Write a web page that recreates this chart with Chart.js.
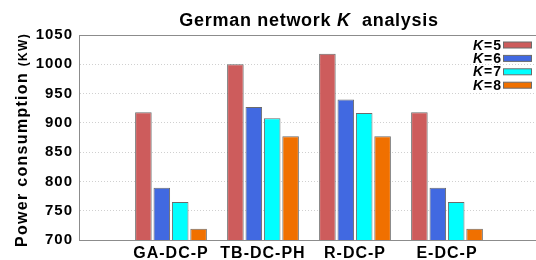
<!DOCTYPE html>
<html>
<head>
<meta charset="utf-8">
<script src="https://cdn.jsdelivr.net/npm/chart.js@4/dist/chart.umd.min.js"></script>
<style>
  html, body { margin: 0; padding: 0; background: #fff; overflow: hidden; }
  #wrap { width: 536px; height: 260px; overflow: hidden; position: relative; }
  #box { width: 543px; height: 260px; position: absolute; left: 0; top: 0; }
</style>
</head>
<body>
<div id="wrap"><div id="box"><canvas id="myChart"></canvas></div></div>
<script>
// data
const categories = ['GA-DC-P', 'TB-DC-PH', 'R-DC-P', 'E-DC-P'];
const kValues = [5, 6, 7, 8];
const k5 = [918, 1000, 1018, 918];
const k6 = [789, 927, 940, 789];
const k7 = [765, 908, 917, 765];
const k8 = [719, 877, 877, 719];
const yTicks = [700, 750, 800, 850, 900, 950, 1000, 1050];

const colors = ['#CD5C5C', '#4169E1', '#00FFFF', '#F07000'];
const fontFam = "'Liberation Sans', Arial, sans-serif";

// blank slot at each end so the groups sit where the original puts them
const labels = [''].concat(categories, ['']);
const pad = function (arr) { return [null].concat(arr, [null]); };

const series = [k5, k6, k7, k8];
const datasets = series.map(function (s, i) {
    return {
        label: 'K=' + kValues[i],
        data: pad(s),
        backgroundColor: colors[i],
        borderColor: '#6b6b6b',
        borderWidth: 1,
        borderSkipped: 'bottom',
        barPercentage: 0.9,
        categoryPercentage: 0.8
    };
});

// title, y title and legend need italic K, so they are drawn here
const textPlugin = {
    id: 'texts',
    beforeDraw: function (chart) {
        chart.ctx.letterSpacing = '1px';
    },
    afterDraw: function (chart) {
        const ctx = chart.ctx;
        const area = chart.chartArea;
        ctx.save();
        ctx.fillStyle = '#000';
        ctx.textBaseline = 'alphabetic';
        ctx.textAlign = 'left';

        // title
        ctx.letterSpacing = '0.7px';
        const parts = [
            { t: 'German network ', f: 'bold 18px ' + fontFam },
            { t: 'K', f: 'italic bold 18px ' + fontFam },
            { t: '  analysis', f: 'bold 18px ' + fontFam }
        ];
        let w = 0;
        parts.forEach(function (p) { ctx.font = p.f; p.w = ctx.measureText(p.t).width; w += p.w; });
        let x = (area.left + area.right) / 2 - w / 2;
        parts.forEach(function (p) { ctx.font = p.f; ctx.fillText(p.t, x, 26); x += p.w; });

        // y axis title
        ctx.save();
        ctx.translate(27, 247);
        ctx.rotate(-Math.PI / 2);
        ctx.letterSpacing = '1.3px';
        ctx.font = 'bold 16px ' + fontFam;
        const main = 'Power consumption ';
        ctx.fillText(main, 0, 0);
        const mw = ctx.measureText(main).width;
        ctx.font = 'bold 12px ' + fontFam;
        ctx.fillText('(KW)', mw, 0);
        ctx.restore();

        // legend
        ctx.letterSpacing = '1px';
        chart.data.datasets.forEach(function (ds, i) {
            const y = 49.5 + i * 13.4;
            const rest = ds.label.slice(1);
            ctx.font = 'bold 14px ' + fontFam;
            const rw = ctx.measureText(rest).width;
            ctx.fillText(rest, 502 - rw, y);
            ctx.font = 'italic bold 14px ' + fontFam;
            const kw = ctx.measureText('K').width;
            ctx.fillText('K', 502 - rw - kw, y);
            ctx.fillStyle = ds.backgroundColor;
            ctx.fillRect(503.5, y - 7.5, 28, 6);
            ctx.strokeStyle = '#6b6b6b';
            ctx.lineWidth = 1;
            ctx.strokeRect(503.5, y - 7.5, 28, 6);
            ctx.fillStyle = '#000';
        });
        ctx.restore();
    }
};

const ctx = document.getElementById('myChart');
const myChart = new Chart(ctx, {
    type: 'bar',
    data: {
        labels: labels,
        datasets: datasets
    },
    options: {
        responsive: true,
        maintainAspectRatio: false,
        animation: false,
        layout: {
            padding: { top: 35, right: 1, left: 0, bottom: 0 }
        },
        plugins: {
            legend: { display: false },
            title: { display: false },
            tooltip: { enabled: false }
        },
        scales: {
            x: {
                offset: false,
                afterFit: function (scale) { scale.height = 20; },
                grid: { display: false, drawTicks: false },
                border: { display: true, color: '#8c8c8c', width: 1 },
                ticks: {
                    autoSkip: false,
                    maxRotation: 0,
                    padding: 4,
                    color: '#000',
                    font: { family: fontFam, size: 16, weight: 'bold' }
                }
            },
            y: {
                min: yTicks[0],
                max: yTicks[yTicks.length - 1],
                afterFit: function (scale) { scale.width = 79; },
                afterBuildTicks: function (scale) {
                    scale.ticks = yTicks.map(function (v) { return { value: v }; });
                },
                grid: {
                    drawTicks: false,
                    color: function (c) {
                        if (c.tick && c.tick.value === 1050) return '#8c8c8c';
                        if (c.tick && c.tick.value === 700) return 'rgba(0,0,0,0)';
                        return '#d0d0d0';
                    }
                },
                border: {
                    display: true,
                    color: '#8c8c8c',
                    width: 1,
                    dash: function (c) {
                        return (c.tick && c.tick.value === 1050) ? [] : [1, 2];
                    }
                },
                ticks: {
                    padding: 6,
                    color: '#000',
                    font: { family: fontFam, size: 15, weight: 'bold' },
                    callback: function (v) { return String(v); }
                }
            }
        }
    },
    plugins: [textPlugin]
});
</script>
</body>
</html>
